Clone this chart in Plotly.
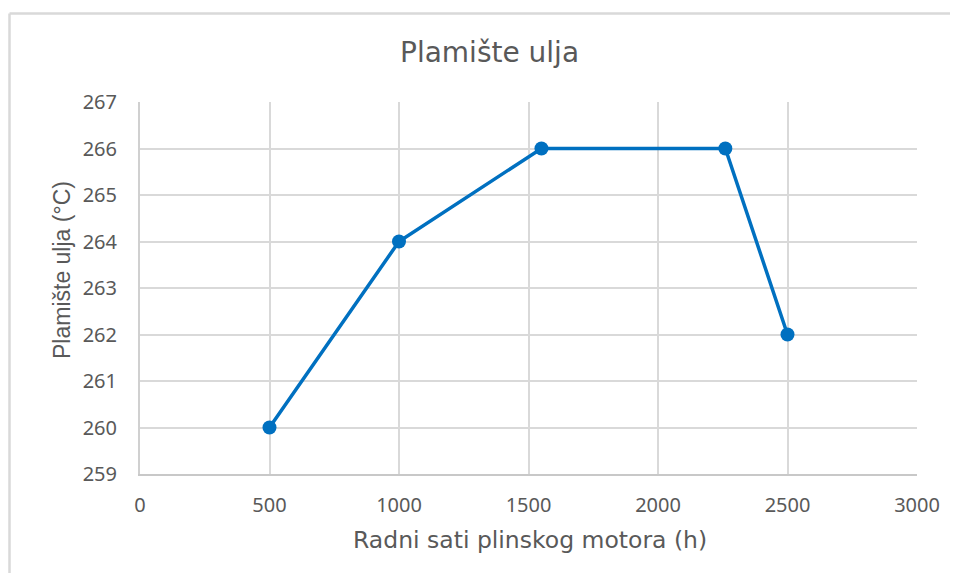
import plotly.graph_objects as go

hours = [500, 1000, 1550, 2260, 2500]
flash_point = [260, 264, 266, 266, 262]
x_ticks = [0, 500, 1000, 1500, 2000, 2500, 3000]
y_ticks = [259, 260, 261, 262, 263, 264, 265, 266, 267]

TICK_FONT = "Noto Sans"
TITLE_FONT = "DejaVu Sans"
GREY = "#595959"
GRID = "#d9d9d9"

W, H = 950, 565
L, T, R = 132, 94, 41
PW, PH = 777, 372
B = H - T - PH


def px_x(px):  # page x -> paper
    return (px - 8 - L) / PW


def px_y(py):  # page y -> paper
    return ((H - B) - (py - 8)) / PH


fig = go.Figure(go.Scatter(
    x=hours, y=flash_point, mode="lines+markers",
    line=dict(color="#0070C0", width=3.5),
    marker=dict(color="#0070C0", size=14),
    showlegend=False,
))

border = dict(color=GRID, width=2.5)
fig.update_layout(
    width=W, height=H,
    margin=dict(l=L, r=R, t=T, b=B),
    paper_bgcolor="white", plot_bgcolor="white",
    font=dict(family=TICK_FONT, color=GREY),
    shapes=[
        dict(type="line", xref="paper", yref="paper",
             x0=px_x(9.5), x1=px_x(975), y0=px_y(13.5), y1=px_y(13.5),
             line=border, layer="below"),
        dict(type="line", xref="paper", yref="paper",
             x0=px_x(9.5), x1=px_x(9.5), y0=px_y(13.5), y1=px_y(600),
             line=border, layer="below"),
    ],
    annotations=[
        dict(text="Plamište ulja", xref="paper", yref="paper",
             x=px_x(489), y=px_y(53), xanchor="center", yanchor="middle",
             showarrow=False, font=dict(size=28, color=GREY, family=TITLE_FONT)),
        dict(text="Radni sati plinskog motora (h)", xref="paper", yref="paper",
             x=px_x(530), y=px_y(540), xanchor="center", yanchor="middle",
             showarrow=False, font=dict(size=23.5, color=GREY, family=TITLE_FONT)),
        dict(text="Plamište ulja (°C)", xref="paper", yref="paper",
             x=px_x(62), y=px_y(270), xanchor="center", yanchor="middle",
             textangle=-90, showarrow=False,
             font=dict(size=23, color=GREY, family="Liberation Sans")),
    ],
)

fig.update_xaxes(
    range=[0, 3000], tickvals=x_ticks, ticktext=[str(v) for v in x_ticks],
    showgrid=True, gridcolor=GRID, gridwidth=2,
    showline=True, linecolor="#c8c8c8", linewidth=2,
    zeroline=False, ticks="", ticklabelstandoff=12,
    tickfont=dict(size=20, color=GREY, family=TICK_FONT),
)
fig.update_yaxes(
    range=[259, 267], tickvals=y_ticks, ticktext=[str(v) for v in y_ticks],
    showgrid=True, gridcolor=GRID, gridwidth=2,
    showline=True, linecolor="#d0d0d0", linewidth=2,
    zeroline=False, ticks="", ticklabelstandoff=17,
    tickfont=dict(size=20, color=GREY, family=TICK_FONT),
)

fig.write_html("out.html")
